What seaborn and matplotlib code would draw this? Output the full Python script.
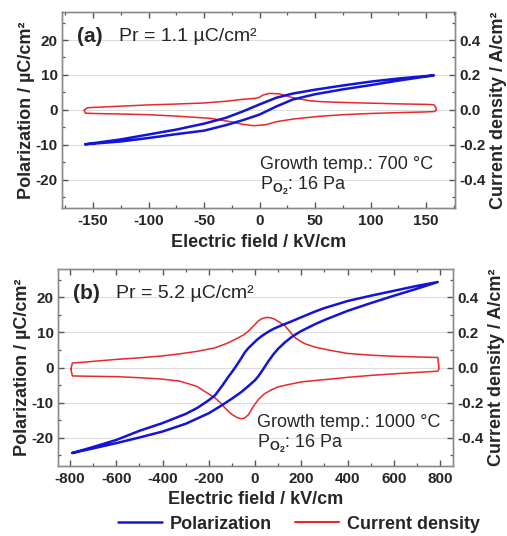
import numpy as np
import pandas as pd
import matplotlib
matplotlib.use("Agg")
import matplotlib.pyplot as plt
import seaborn as sns
from matplotlib.ticker import MultipleLocator, FuncFormatter
from matplotlib.lines import Line2D

sns.set_theme(style="white")
plt.rcParams["font.family"] = ["Liberation Sans", "DejaVu Sans"]
plt.rcParams["font.weight"] = "bold"
plt.rcParams["axes.unicode_minus"] = False
plt.rcParams["mathtext.fontset"] = "custom"
plt.rcParams["mathtext.rm"] = "Liberation Sans"

# ---------------- panel (a): 700 C ----------------
a_E_pol_low = [-157, -125, -100, -75, -50, -30, -15, 0, 15, 30, 50, 75, 100, 125, 157]
a_P_pol_low = [-9.8, -9.0, -8.0, -6.9, -5.9, -4.3, -2.9, -1.3, 1.0, 3.0, 4.5, 5.9, 7.1, 8.4, 9.9]
a_E_pol_up = [157, 125, 100, 75, 50, 30, 15, 0, -15, -30, -50, -75, -100, -125, -157]
a_P_pol_up = [9.9, 9.0, 8.1, 7.0, 5.8, 4.7, 3.5, 1.6, -0.4, -2.2, -3.9, -5.6, -7.0, -8.4, -9.8]

a_E_cur_up = [-158, -155, -125, -100, -75, -50, -30, -15, -5, -1, 3, 9, 18, 30, 45, 54,
              75, 100, 125, 150, 157, 159]
a_J_cur_up = [0.0, 0.013, 0.022, 0.029, 0.034, 0.040, 0.050, 0.061, 0.066, 0.070, 0.085,
              0.095, 0.092, 0.070, 0.053, 0.048, 0.043, 0.039, 0.035, 0.032, 0.030, 0.012]
a_E_cur_dn = [159, 157, 150, 125, 100, 75, 54, 30, 15, 6, -5, -15, -26, -44, -75, -100,
              -125, -150, -157, -158]
a_J_cur_dn = [-0.004, -0.009, -0.011, -0.015, -0.020, -0.027, -0.036, -0.052, -0.067,
              -0.084, -0.090, -0.082, -0.067, -0.048, -0.035, -0.027, -0.023, -0.020,
              -0.018, 0.0]

# ---------------- panel (b): 1000 C ----------------
b_E_pol_low = [-790, -700, -600, -500, -400, -300, -200, -150, -101, -60, -29, 0, 14, 35,
               58, 80, 101, 130, 159, 195, 216, 259, 300, 400, 500, 600, 700, 790]
b_P_pol_low = [-24.3, -23.0, -21.5, -19.9, -18.2, -16.0, -13.0, -11.0, -8.9, -7.0, -5.3,
               -3.6, -2.5, -0.5, 1.8, 3.8, 5.4, 7.2, 8.7, 10.2, 10.9, 12.3, 13.5, 16.1,
               18.3, 20.4, 22.4, 24.3]
b_E_pol_up = [790, 700, 600, 500, 400, 300, 259, 200, 150, 115, 80, 58, 30, 7, -10, -29,
              -45, -58, -72, -86, -100, -115, -140, -173, -200, -250, -300, -400, -500,
              -600, -700, -790]
b_P_pol_up = [24.3, 23.2, 21.8, 20.4, 18.9, 16.9, 15.9, 14.3, 12.9, 12.0, 11.0, 10.2, 9.0,
              7.8, 6.7, 5.5, 4.2, 2.8, 1.4, 0.0, -1.3, -2.6, -5.0, -7.9, -9.3, -11.5,
              -13.2, -15.8, -18.0, -20.6, -22.6, -24.3]

b_E_cur_up = [-796, -790, -700, -600, -500, -400, -324, -250, -173, -120, -86, -50, -29,
              -5, 14, 30, 50, 70, 86, 105, 130, 150, 173, 195, 216, 259, 324, 400, 500,
              600, 700, 790, 795]
b_J_cur_up = [-0.010, 0.025, 0.035, 0.046, 0.055, 0.066, 0.078, 0.092, 0.112, 0.138, 0.160,
              0.185, 0.207, 0.238, 0.265, 0.278, 0.285, 0.282, 0.274, 0.258, 0.236, 0.205,
              0.170, 0.150, 0.135, 0.116, 0.098, 0.080, 0.070, 0.064, 0.060, 0.057, 0.0]
b_E_cur_dn = [795, 790, 700, 600, 500, 400, 324, 259, 200, 144, 100, 72, 40, 14, -7, -29,
              -45, -58, -75, -90, -105, -130, -150, -173, -215, -252, -324, -400, -500,
              -600, -700, -790, -796]
b_J_cur_dn = [-0.010, -0.021, -0.028, -0.036, -0.045, -0.056, -0.066, -0.074, -0.082,
              -0.097, -0.110, -0.126, -0.150, -0.183, -0.220, -0.269, -0.287, -0.292,
              -0.286, -0.275, -0.262, -0.230, -0.200, -0.173, -0.138, -0.107, -0.078,
              -0.066, -0.058, -0.052, -0.050, -0.048, -0.010]

BLUE = "#1414d6"
RED = "#e8282c"
SPINE = "#8a8a8a"
GRID = "#dddddd"


def loop_df(e1, v1, e2, v2):
    return pd.DataFrame({"E": list(e1) + list(e2), "V": list(v1) + list(v2)})


def panel(ax, pol, cur, xlim, xmaj, xmin, tag, pr, temp, xlabelpad):
    tw = ax.twinx()
    ax.set_zorder(tw.get_zorder() + 1)
    ax.patch.set_visible(False)
    tw.set_facecolor("white")

    sns.lineplot(data=cur, x="E", y="V", sort=False, estimator=None, ax=tw,
                 color=RED, lw=1.1)
    sns.lineplot(data=pol, x="E", y="V", sort=False, estimator=None, ax=ax,
                 color=BLUE, lw=1.8)

    ax.set_xlim(*xlim)
    ax.set_ylim(-28, 28)
    tw.set_ylim(-0.56, 0.56)
    ax.xaxis.set_major_locator(MultipleLocator(xmaj))
    ax.xaxis.set_minor_locator(MultipleLocator(xmin))
    ax.yaxis.set_major_locator(MultipleLocator(10))
    ax.yaxis.set_minor_locator(MultipleLocator(5))
    tw.yaxis.set_major_locator(MultipleLocator(0.2))
    tw.yaxis.set_minor_locator(MultipleLocator(0.1))
    tw.yaxis.set_major_formatter(FuncFormatter(lambda v, p: f"{v:.1f}".replace("-0.0", "0.0")))

    tw.grid(True, which="major", axis="both", color=GRID, lw=0.8)
    tw.xaxis.grid(True, which="major", color=GRID, lw=0.8)
    ax.grid(False)

    for a in (ax, tw):
        for s in a.spines.values():
            s.set_color(SPINE)
            s.set_linewidth(1.0)
    ax.tick_params(axis="both", which="both", direction="in", color="#555555",
                   labelsize=11)
    ax.tick_params(axis="x", which="both", top=True, bottom=True, pad=4)
    ax.tick_params(axis="y", which="both", left=True, right=False, pad=3)
    ax.tick_params(which="major", length=4, width=1)
    ax.tick_params(which="minor", length=2.5, width=0.9)
    tw.tick_params(axis="y", which="both", direction="in", color="#555555",
                   labelsize=11, right=True, pad=3)
    tw.tick_params(which="major", length=4, width=1)
    tw.tick_params(which="minor", length=2.5, width=0.9)

    ax.set_xlabel("Electric field / kV/cm", fontsize=13, fontweight="bold",
                  labelpad=xlabelpad)
    ax.set_ylabel("Polarization / µC/cm²", fontsize=13, fontweight="bold", labelpad=0.5)
    tw.set_ylabel("Current density / A/cm²", fontsize=13, fontweight="bold", labelpad=3)

    ax.text(0.038, 0.875, tag, transform=ax.transAxes, fontsize=15, fontweight="bold",
            va="center", ha="left")
    ax.text(0.146, 0.875, pr, transform=ax.transAxes, fontsize=14, fontweight="normal",
            va="center", ha="left")
    ax.text(0.504, 0.22, temp, transform=ax.transAxes, fontsize=13, fontweight="normal",
            va="center", ha="left")
    ax.text(0.504, 0.112, r"P$_{\mathrm{O_2}}$: 16 Pa", transform=ax.transAxes,
            fontsize=13, fontweight="normal", va="center", ha="left")
    return tw


fig = plt.figure(figsize=(5.07, 5.36), dpi=100)
ax1 = fig.add_axes([0.1223, 0.612, 0.7751, 0.3656])
ax2 = fig.add_axes([0.1144, 0.1306, 0.7791, 0.3675])

panel(ax1, loop_df(a_E_pol_low, a_P_pol_low, a_E_pol_up, a_P_pol_up),
      loop_df(a_E_cur_up, a_J_cur_up, a_E_cur_dn, a_J_cur_dn),
      (-178, 176), 50, 25, "(a)", "Pr = 1.1 µC/cm²", "Growth temp.: 700 °C", 5)
panel(ax2, loop_df(b_E_pol_low, b_P_pol_low, b_E_pol_up, b_P_pol_up),
      loop_df(b_E_cur_up, b_J_cur_up, b_E_cur_dn, b_J_cur_dn),
      (-852, 856), 200, 100, "(b)", "Pr = 5.2 µC/cm²", "Growth temp.: 1000 °C", 4)

handles = [Line2D([], [], color=BLUE, lw=1.8), Line2D([], [], color=RED, lw=1.5)]
fig.legend(handles, ["Polarization", "Current density"], loc="center",
           bbox_to_anchor=(0.59, 0.022), ncol=2, frameon=False,
           prop={"weight": "bold", "size": 13}, handlelength=2.4,
           handletextpad=0.45, columnspacing=1.3)

fig.savefig("out.png", dpi=100)
